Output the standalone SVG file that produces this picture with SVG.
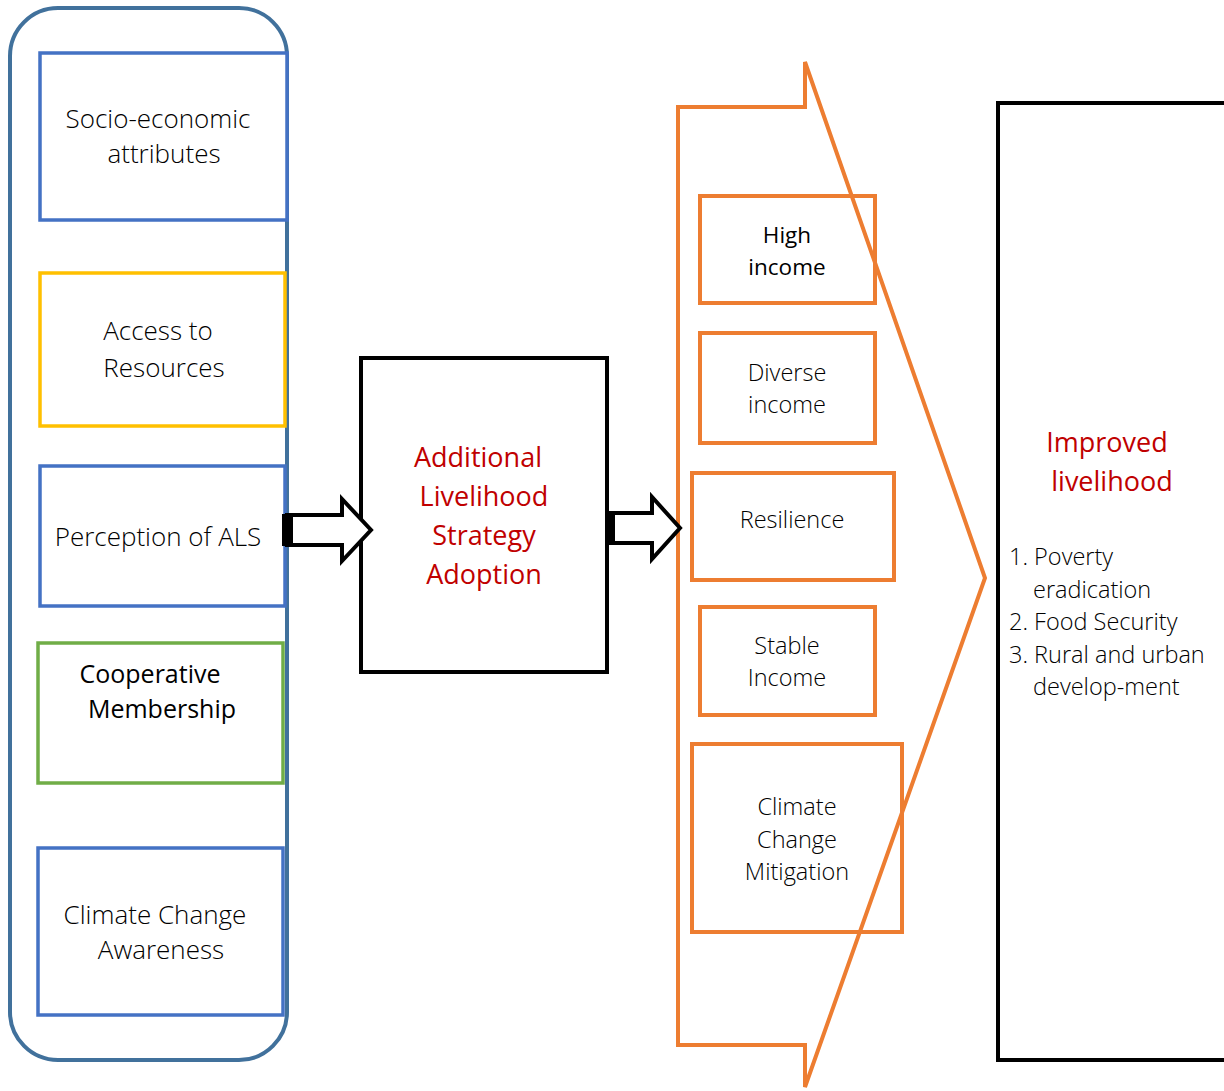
<svg xmlns="http://www.w3.org/2000/svg" width="1224" height="1091" viewBox="0 0 1224 1091">
<style>
text{font-family:"Open Sans","Noto Sans","Liberation Sans",sans-serif;text-anchor:middle;}
.l{font-weight:300;fill:#000;font-size:26px;}
.m{font-weight:300;fill:#000;font-size:23.5px;}
.r{font-weight:400;fill:#000;font-size:25px;}
.rs{font-weight:400;fill:#000;font-size:22.5px;}
.red{fill:#C00000;font-size:27px;font-weight:400;}
.lst{font-weight:300;fill:#000;font-size:23.5px;text-anchor:start;}
.blue{fill:#fff;stroke:#4472C4;stroke-width:3.5;}
.or{fill:none;stroke:#ED7D31;stroke-width:4;}
.blk{fill:#fff;stroke:#000;stroke-width:4;}
</style>
<rect width="1224" height="1091" fill="#fff"/>
<g id="left-group">
<rect x="10" y="8" width="277" height="1052" rx="48" fill="#fff" stroke="#41719C" stroke-width="4"/>
</g>
<g id="socio"><rect class="blue" x="40" y="53" width="247" height="167"/><text class="l" x="158" y="128">Socio-economic</text><text class="l" x="164" y="163">attributes</text></g>
<g id="access"><rect x="40" y="273" width="245" height="153" fill="#fff" stroke="#FFC000" stroke-width="3.5"/><text class="l" x="158" y="340">Access to</text><text class="l" x="164" y="377">Resources</text></g>
<g id="perception"><rect class="blue" x="40" y="466" width="245" height="140"/><text class="l" x="158" y="546">Perception of ALS</text></g>
<g id="coop"><rect x="38" y="643" width="245" height="140" fill="#fff" stroke="#70AD47" stroke-width="3.5"/><text class="r" x="150" y="683">Cooperative</text><text class="r" x="162" y="718">Membership</text></g>
<g id="awareness"><rect class="blue" x="38" y="848" width="245" height="167"/><text class="l" x="155" y="924">Climate Change</text><text class="l" x="161" y="959">Awareness</text></g>
<g id="als"><rect class="blk" x="361" y="358" width="246" height="314"/><text class="red" x="478" y="467">Additional</text><text class="red" x="484" y="506">Livelihood</text><text class="red" x="484" y="545">Strategy</text><text class="red" x="484" y="584">Adoption</text></g>
<g id="outcomes">
<polygon points="678,107 805,107 805,62 985,578 805,1087 805,1045 678,1045" fill="none" stroke="#ED7D31" stroke-width="4"/>
</g>
<g id="high"><rect class="or" x="700" y="196" width="175" height="107"/><text class="rs" x="787" y="243">High</text><text class="rs" x="787" y="275">income</text></g>
<g id="diverse"><rect class="or" x="700" y="333" width="175" height="110"/><text class="m" x="787" y="381">Diverse</text><text class="m" x="787" y="413">income</text></g>
<g id="resilience"><rect class="or" x="692" y="473" width="202" height="107"/><text class="m" x="792" y="528">Resilience</text></g>
<g id="stable"><rect class="or" x="700" y="607" width="175" height="108"/><text class="m" x="787" y="654">Stable</text><text class="m" x="787" y="686">Income</text></g>
<g id="mitigation"><rect class="or" x="692" y="744" width="210" height="188"/><text class="m" x="797" y="815">Climate</text><text class="m" x="797" y="848">Change</text><text class="m" x="797" y="880">Mitigation</text></g>
<g id="improved"><rect class="blk" x="998" y="103" width="240" height="957"/><text class="red" x="1107" y="452">Improved</text><text class="red" x="1112" y="491">livelihood</text>
<text class="lst" x="1009" y="565">1. Poverty</text><text class="lst" x="1033" y="598">eradication</text><text class="lst" x="1009" y="630">2. Food Security</text><text class="lst" x="1009" y="663">3. Rural and urban</text><text class="lst" x="1033" y="695">develop-ment</text></g>
<g id="connectors">
<polygon points="287,515 342,515 342,499 371,530 342,561 342,545 287,545" fill="#fff" stroke="#000" stroke-width="4" stroke-linejoin="miter"/>
<rect x="282" y="514" width="11" height="32" fill="#000"/>
<polygon points="611,513 652,513 652,497 680,528 652,559 652,543 611,543" fill="#fff" stroke="#000" stroke-width="4"/>
<rect x="606" y="512" width="9" height="32" fill="#000"/>
</g>
</svg>
